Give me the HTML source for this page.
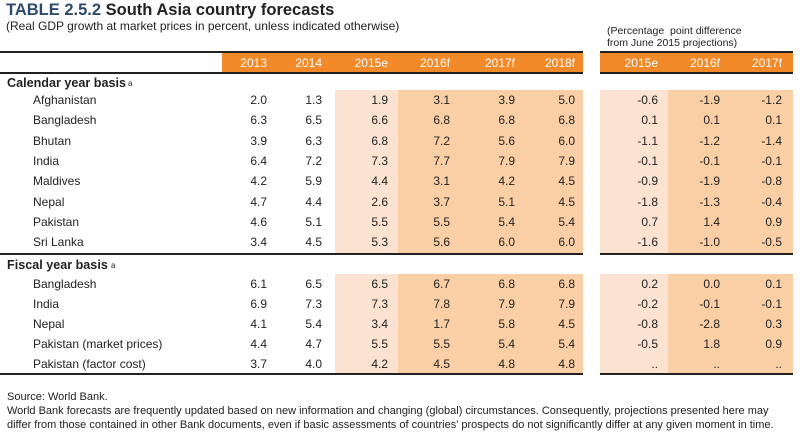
<!DOCTYPE html>
<html><head><meta charset="utf-8"><style>
body{margin:0;width:800px;height:434px;background:#fff;font-family:"Liberation Sans",Arial,sans-serif;color:#222;position:relative;overflow:hidden}
.a{position:absolute;white-space:nowrap}
.t{font-size:12px;line-height:14px}
.n{text-align:right;width:50px}
.hd{color:#fff;font-size:12px}
</style></head><body>
<div class="a" style="left:6px;top:1px;font-size:16.5px;font-weight:bold"><span style="color:#2e4a6a">TABLE 2.5.2</span> South Asia country forecasts</div>
<div class="a t" style="left:6px;top:19px">(Real GDP growth at market prices in percent, unless indicated otherwise)</div>
<div class="a" style="left:607px;top:25px;font-size:10.5px;line-height:12px">(Percentage&nbsp; point difference<br>from June 2015 projections)</div>
<div id="g"></div>
<div class="a t" style="left:7px;top:390px;font-size:11px">Source: World Bank.</div>
<div class="a t" style="left:7px;top:404px;font-size:11px;line-height:14px">World Bank forecasts are frequently updated based on new information and changing (global) circumstances. Consequently, projections presented here may<br>differ from those contained in other Bank documents, even if basic assessments of countries' prospects do not significantly differ at any given moment in time.</div>
<script>
const years=["2013","2014","2015e","2016f","2017f","2018f"];
const diffYears=["2015e","2016f","2017f"];
const calNames=["Afghanistan","Bangladesh","Bhutan","India","Maldives","Nepal","Pakistan","Sri Lanka"];
const calVals=[["2.0","1.3","1.9","3.1","3.9","5.0"],["6.3","6.5","6.6","6.8","6.8","6.8"],["3.9","6.3","6.8","7.2","5.6","6.0"],["6.4","7.2","7.3","7.7","7.9","7.9"],["4.2","5.9","4.4","3.1","4.2","4.5"],["4.7","4.4","2.6","3.7","5.1","4.5"],["4.6","5.1","5.5","5.5","5.4","5.4"],["3.4","4.5","5.3","5.6","6.0","6.0"]];
const calDiff=[["-0.6","-1.9","-1.2"],["0.1","0.1","0.1"],["-1.1","-1.2","-1.4"],["-0.1","-0.1","-0.1"],["-0.9","-1.9","-0.8"],["-1.8","-1.3","-0.4"],["0.7","1.4","0.9"],["-1.6","-1.0","-0.5"]];
const fisNames=["Bangladesh","India","Nepal","Pakistan (market prices)","Pakistan (factor cost)"];
const fisVals=[["6.1","6.5","6.5","6.7","6.8","6.8"],["6.9","7.3","7.3","7.8","7.9","7.9"],["4.1","5.4","3.4","1.7","5.8","4.5"],["4.4","4.7","5.5","5.5","5.4","5.4"],["3.7","4.0","4.2","4.5","4.8","4.8"]];
const fisDiff=[["0.2","0.0","0.1"],["-0.2","-0.1","-0.1"],["-0.8","-2.8","0.3"],["-0.5","1.8","0.9"],["..","..",".."]];
const colR=[267,322,388,450,515,575], dColR=[658,720,782];
const g=document.getElementById('g');
function box(l,t,w,h,c,name){const d=document.createElement('div');d.className='a';d.style.cssText=`left:${l}px;top:${t}px;width:${w}px;height:${h}px;background:${c}`;


g.appendChild(d);}
function txt(s,l,cy,cls,name,extra){const d=document.createElement('div');d.className='a t '+cls;d.textContent=s;d.style.cssText=`left:${l}px;top:${cy-7}px;`+(extra||'');


g.appendChild(d);}
const LIGHT='#fce3d1',DARK='#fbcfa6',OR='#f28a2a';
box(335,90,63,163,LIGHT,'shade-2015e-calendar');box(398,90,185,163,DARK,'shade-forecast-calendar');
box(335,274,63,99,LIGHT,'shade-2015e-fiscal');box(398,274,185,99,DARK,'shade-forecast-fiscal');
box(600,90,68,163,LIGHT,'shade-diff-2015e-calendar');box(668,90,125,163,DARK,'shade-diff-forecast-calendar');
box(600,274,68,99,LIGHT,'shade-diff-2015e-fiscal');box(668,274,125,99,DARK,'shade-diff-forecast-fiscal');
box(222,53,361,19,OR,'header-bar');box(600,53,193,19,OR,'diff-header-bar');
box(0,51,583,2,'#222','top-rule');box(600,51,193,2,'#222','diff-top-rule');
box(0,72,583,2,'#222','header-rule');box(600,72,193,2,'#222','diff-header-rule');
box(0,253,583,2,'#222','section-rule');box(600,253,193,2,'#222','diff-section-rule');
box(0,373,583,2,'#222','bottom-rule');box(600,373,193,2,'#222','diff-bottom-rule');
years.forEach((y,i)=>txt(y,colR[i]-50,63,'n hd','header-'+y));
diffYears.forEach((y,i)=>txt(y,dColR[i]-50,63,'n hd','diff-header-'+y));
txt('Calendar year basis',7,83,'','calendar-section-label','font-weight:bold;font-size:12.6px');
txt('a',128,84,'','footnote-marker','font-size:8px');
txt('Fiscal year basis',7,265,'','fiscal-section-label','font-weight:bold;font-size:12.6px');
txt('a',111,266,'','footnote-marker','font-size:8px');
function rows(names,vals,diffs,y0,step,pre){names.forEach((nm,r)=>{const cy=y0+r*step;
txt(nm,33,cy,'',pre+'-row-label');
vals[r].forEach((v,i)=>txt(v,colR[i]-50,cy,'n',pre+'-value'));
diffs[r].forEach((v,i)=>txt(v,dColR[i]-50,cy,'n',pre+'-diff-value'));});}
rows(calNames,calVals,calDiff,100,20.3,'calendar');
rows(fisNames,fisVals,fisDiff,284,20,'fiscal');
</script>
</body></html>
